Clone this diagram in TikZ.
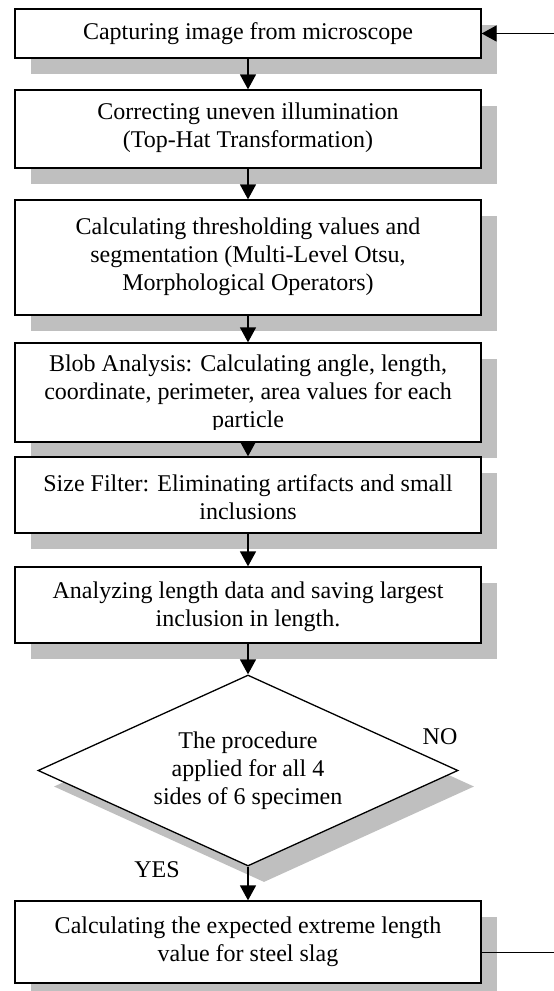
\documentclass[tikz,border=0pt]{standalone}
\usepackage{fontspec}
\setmainfont{Liberation Serif}
\usetikzlibrary{arrows.meta,shapes.geometric}
\definecolor{shadowgray}{RGB}{191,191,191}
\tikzset{
  box/.style={draw, line width=1.3pt, fill=white, minimum width=466pt, inner sep=0pt},
  shade/.style={fill=shadowgray},
  txt/.style={align=center, inner sep=0pt, font=\fontsize{24}{27.8}\selectfont},
  arr/.style={line width=1.5pt, -{Triangle[width=16pt,length=15pt]}},
  plain/.style={line width=1.5pt},
  dec/.style={diamond, draw, line width=1.3pt, fill=white, minimum width=420pt, minimum height=191pt, inner sep=0pt},
  decshade/.style={diamond, fill=shadowgray, minimum width=420pt, minimum height=191pt, inner sep=0pt}
}
\begin{document}
\begin{tikzpicture}[x=1pt,y=-1pt]
\useasboundingbox (0,0) rectangle (554,991);
% shadows
\fill[shade] (31,25) rectangle (497,74);
\fill[shade] (31,106) rectangle (497,184);
\fill[shade] (31,216) rectangle (497,331);
\fill[shade] (31,359) rectangle (497,458);
\fill[shade] (31,473) rectangle (497,549);
\fill[shade] (31,583) rectangle (497,659);
\node[decshade] (dsh) at (264,786.5) {};
\fill[shade] (31,917) rectangle (497,1001);
% boxes
\node[box, minimum height=49pt] (b1) at (248,33.5) {};
\node[box, minimum height=78pt] (b2) at (248,129) {};
\node[box, minimum height=115pt] (b3) at (248,257.5) {};
\node[box, minimum height=99pt] (b4) at (248,392.5) {};
\node[box, minimum height=76pt] (b5) at (248,495) {};
\node[box, minimum height=76pt] (b6) at (248,605) {};
\node[dec] (d) at (248,770.5) {};
\node[box, minimum height=82pt] (b7) at (248,942) {};
% texts
\node[txt] (t1) at (248,33.5) {Capturing image from microscope};
\node[txt] (t2) at (248,128) {Correcting uneven illumination\\(Top-Hat Transformation)};
\node[txt] (t3) at (248,257) {Calculating thresholding values and\\segmentation (Multi-Level Otsu,\\Morphological Operators)};
\begin{scope}
\clip (15,343) rectangle (481,429.5);
\node[txt] (t4) at (248,394) {Blob Analysis: Calculating angle, length,\\coordinate, perimeter, area values for each\\particle};
\end{scope}
\node[txt] (t5) at (248,497.5) {Size Filter: Eliminating artifacts and small\\inclusions};
\node[txt] (t6) at (248,607) {Analyzing length data and saving largest\\inclusion in length.};
\node[txt] (td) at (248,770.5) {The procedure\\applied for all 4\\sides of 6 specimen};
\node[txt] (t7) at (248,941.5) {Calculating the expected extreme length\\value for steel slag};
\node[txt] (no) at (440,737) {NO};
\node[txt] (yes) at (157,870) {YES};
% connectors
\draw[arr] (b1) -- (b2);
\draw[arr] (b2) -- (b3);
\draw[arr] (b3) -- (b4);
\draw[arr] (b4) -- (b5);
\draw[arr] (b5) -- (b6);
\draw[arr] (b6) -- (d);
\draw[arr] (d) -- (b7);
\coordinate (loopin) at (554,33.5);
\coordinate (loopout) at (554,952.5);
\draw[arr] (loopin) -- (b1.east);
\draw[plain] (b7.east |- loopout) -- (loopout);
\end{tikzpicture}
\end{document}
